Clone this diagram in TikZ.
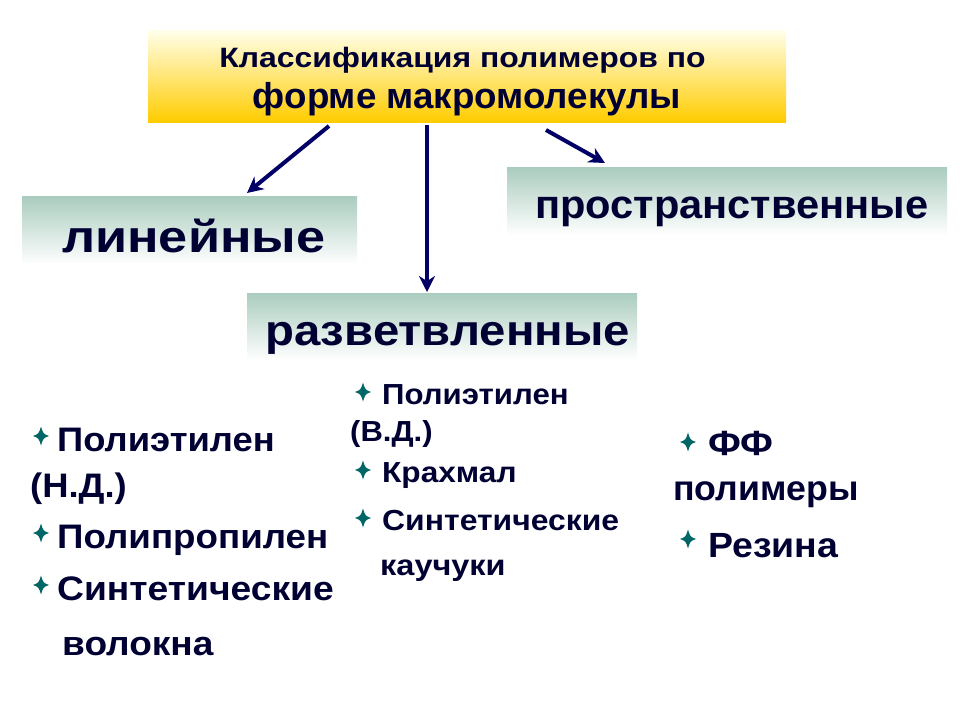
\documentclass[tikz,border=0pt]{standalone}
\usepackage{fontspec}
\usepackage{graphicx}
\setmainfont{Liberation Sans}
\usetikzlibrary{arrows.meta}
\definecolor{txtnavy}{RGB}{0,0,51}
\definecolor{arrnavy}{RGB}{0,0,102}
\definecolor{startea}{RGB}{0,102,102}
\definecolor{gold}{RGB}{255,204,0}
\definecolor{goldtop}{RGB}{255,255,235}
\definecolor{sage}{RGB}{170,204,190}
\newcommand{\sx}[2]{\scalebox{#1}[1]{#2}}
\tikzset{
  titlebox/.style={draw=none, top color=goldtop, bottom color=gold, inner sep=0pt},
  greenbox/.style={draw=none, top color=sage, bottom color=white, inner sep=0pt},
  txt/.style={inner sep=0pt, text=txtnavy, font=\bfseries},
  arr/.style={draw=arrnavy, line width=4pt, -{Stealth[length=16pt,width=16pt]}},
  pics/bstar/.style={code={
    \fill[startea] (0,-9.5) .. controls (2.2,-2.2) .. (8,0)
      .. controls (2.2,2.2) .. (0,9.5) .. controls (-2.2,2.2) .. (-8,0)
      .. controls (-2.2,-2.2) .. cycle;}}
}
\begin{document}
\begin{tikzpicture}[x=1pt,y=-1pt]
\useasboundingbox (0,0) rectangle (960,720);
\fill[white] (0,0) rectangle (960,720);
% boxes
\node[titlebox, minimum width=638pt, minimum height=92pt] (title) at (467,76) {};
\node[greenbox, minimum width=335pt, minimum height=69pt] (lin) at (189.5,230.5) {};
\node[greenbox, minimum width=440pt, minimum height=68pt] (spat) at (727,201) {};
\node[greenbox, minimum width=390pt, minimum height=67pt] (branch) at (442,326.5) {};
% titles
\node[txt, anchor=base, font=\bfseries\fontsize{28}{30}\selectfont] (t1) at (462.5,67) {\sx{1.14}{Классификация полимеров по}};
\node[txt, anchor=base, font=\bfseries\fontsize{36}{40}\selectfont] (t2) at (467,108) {\sx{1.02}{форме макромолекулы}};
\node[txt, anchor=base west, font=\bfseries\fontsize{45}{48}\selectfont] (tlin) at (62,252) {\sx{1.16}{линейные}};
\node[txt, anchor=base west, font=\bfseries\fontsize{40}{44}\selectfont] (tspat) at (535,218) {\sx{1.04}{пространственные}};
\node[txt, anchor=base west, font=\bfseries\fontsize{43}{46}\selectfont] (tbranch) at (265,345) {\sx{1.10}{разветвленные}};
% arrows
\coordinate (a1s) at (329,126);
\coordinate (a1e) at (247,193);
\coordinate (a2s) at (427,125);
\coordinate (a2e) at (427,292);
\coordinate (a3s) at (546,130);
\coordinate (a3e) at (605,163);
\draw[arr] (a1s) -- (a1e);
\draw[arr] (a2s) -- (a2e);
\draw[arr] (a3s) -- (a3e);
% left list
\begin{scope}[every node/.style={txt, anchor=base west, font=\bfseries\fontsize{34}{38}\selectfont}]
\node (l1) at (57,451) {\sx{1.07}{Полиэтилен}};
\node (l2) at (30,497) {\sx{1.07}{(Н.Д.)}};
\node (l3) at (57,548) {\sx{1.08}{Полипропилен}};
\node (l4) at (57,600) {\sx{1.095}{Синтетические}};
\node (l5) at (62,655) {\sx{1.09}{волокна}};
\end{scope}
\pic at ([shift={(-16,-15)}]l1.base west) {bstar};
\pic at ([shift={(-16,-15)}]l3.base west) {bstar};
\pic at ([shift={(-16,-15)}]l4.base west) {bstar};
% middle list
\begin{scope}[every node/.style={txt, anchor=base west, font=\bfseries\fontsize{29}{32}\selectfont}]
\node (m1) at (382,404) {\sx{1.075}{Полиэтилен}};
\node (m2) at (350,441) {\sx{1.07}{(В.Д.)}};
\node (m3) at (382,482) {\sx{1.09}{Крахмал}};
\node (m4) at (382,530) {\sx{1.10}{Синтетические}};
\node (m5) at (380,575) {\sx{1.12}{каучуки}};
\end{scope}
\pic at ([shift={(-19,-12)}]m1.base west) {bstar};
\pic at ([shift={(-19,-12)}]m3.base west) {bstar};
\pic at ([shift={(-19,-12)}]m4.base west) {bstar};
% right list
\begin{scope}[every node/.style={txt, anchor=base west, font=\bfseries\fontsize{35}{38}\selectfont}]
\node (r1) at (708,455) {\sx{1.1}{ФФ}};
\node (r2) at (673,500) {\sx{1.02}{полимеры}};
\node (r3) at (708,557) {\sx{1.07}{Резина}};
\end{scope}
\pic at ([shift={(-20,-13)}]r1.base west) {bstar};
\pic at ([shift={(-20,-18)}]r3.base west) {bstar};
\end{tikzpicture}
\end{document}
